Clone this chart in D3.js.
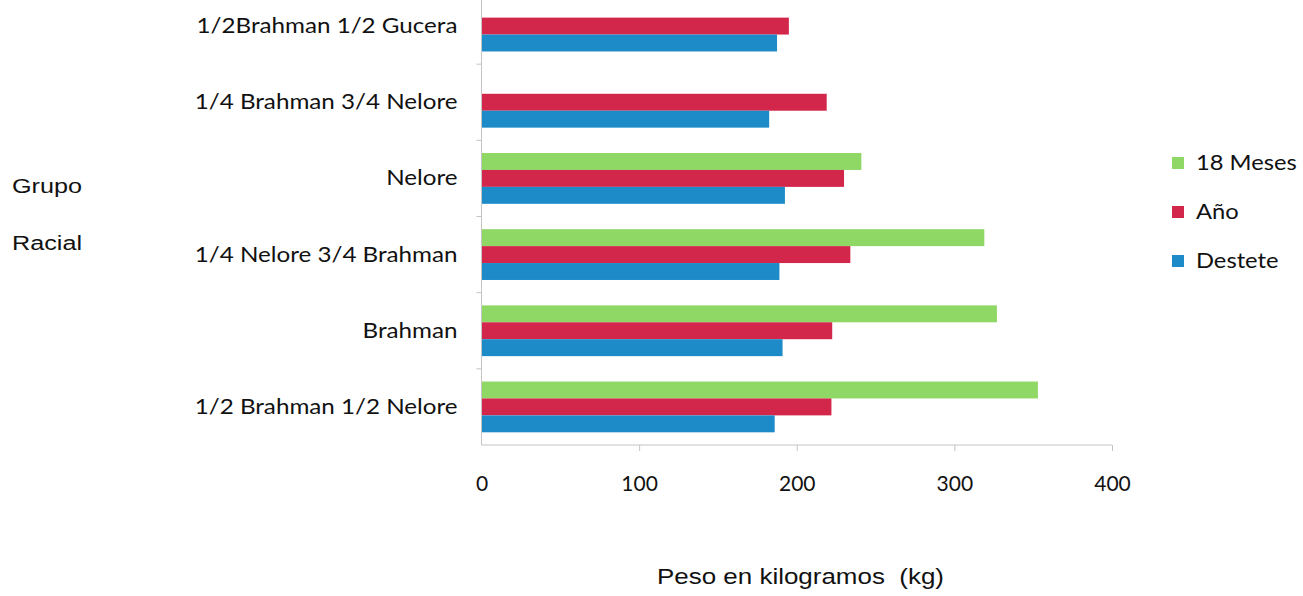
<!DOCTYPE html>
<html>
<head>
<meta charset="utf-8">
<script src="https://cdn.jsdelivr.net/npm/d3@7"></script>
<style>
  body { margin: 0; background: #fff; }
  svg { display: block; }
</style>
</head>
<body>
<div id="chart"></div>
<script>
// categories, top to bottom
var categories = [
    "1/2Brahman 1/2 Gucera",
    "1/4 Brahman 3/4 Nelore",
    "Nelore",
    "1/4 Nelore 3/4 Brahman",
    "Brahman",
    "1/2 Brahman 1/2 Nelore"
];
var seriesNames = ["18 Meses", "Año", "Destete"];
var meses18 = [null, null, 241, 319, 327, 353];
var ano = [195, 219, 230, 234, 222.5, 222];
var destete = [187.5, 182.5, 192.5, 189, 191, 186];
var xTicks = [0, 100, 200, 300, 400];
var colors = ["#8fd866", "#d3264b", "#1c8bc8"];

var svgWidth = 1303;
var svgHeight = 596;

var svg = d3.select("#chart")
    .append("svg")
    .attr("width", svgWidth)
    .attr("height", svgHeight);

var labelFont = "Lato, 'Noto Sans', sans-serif";
var titleFont = "'Liberation Sans', Arial, sans-serif";

// the source picture is a bit wider than tall, so text gets stretched sideways
function stretch(sel, sx) {
    sel.each(function() {
        var t = d3.select(this);
        var x0 = +t.attr("x") || 0;
        var y0 = +t.attr("y") || 0;
        t.attr("x", 0).attr("y", 0)
            .attr("transform", `translate(${x0}, ${y0}) scale(${sx}, 1)`);
    });
}

var x = d3.scaleLinear()
    .domain([0, 400])
    .range([481.5, 1112]);

var y0 = d3.scaleBand()
    .domain(categories)
    .range([-12, 445]);

var y1 = d3.scaleBand()
    .domain(seriesNames)
    .range([0, y0.bandwidth()])
    .paddingInner(0)
    .paddingOuter(0.75);

var seriesData = [meses18, ano, destete];

var rows = categories.map((c, i) => ({
    cat: c,
    vals: seriesNames.map((s, j) => ({ name: s, value: seriesData[j][i], color: colors[j] }))
}));

// bars
var groups = svg.selectAll("g.cat")
    .data(rows)
    .enter()
    .append("g")
    .attr("class", "cat")
    .attr("transform", d => `translate(0, ${y0(d.cat)})`);

groups.selectAll("rect")
    .data(d => d.vals.filter(v => v.value != null))
    .enter()
    .append("rect")
    .attr("x", x(0))
    .attr("y", d => y1(d.name))
    .attr("width", d => x(d.value) - x(0))
    .attr("height", y1.bandwidth())
    .attr("fill", d => d.color);

// x axis
var bottomAxis = d3.axisBottom(x)
    .tickValues(xTicks)
    .tickSize(6)
    .tickPadding(25);

var xAxisG = svg.append("g")
    .attr("transform", "translate(0, 445)")
    .call(bottomAxis);
xAxisG.select(".domain").attr("stroke", "#c4c4c4").attr("d", `M${x(0)},0H${x(400)}`);
xAxisG.selectAll(".tick line").attr("stroke", "#c4c4c4");
xAxisG.selectAll(".tick").filter(d => d === 0).select("line").remove();
xAxisG.selectAll(".tick text")
    .attr("font-family", labelFont)
    .attr("font-size", "21px")
    .attr("fill", "#111");

// y axis
var leftAxis = d3.axisLeft(y0)
    .tickSize(0)
    .tickPadding(24);

var yAxisG = svg.append("g")
    .attr("transform", `translate(${x(0)}, 0)`)
    .call(leftAxis);
yAxisG.select(".domain").attr("stroke", "#c4c4c4").attr("d", "M0,-12V445");
yAxisG.selectAll(".tick text")
    .attr("font-family", labelFont)
    .attr("font-size", "22px")
    .attr("fill", "#111")
    .call(stretch, 1.1);

// small ticks between categories
yAxisG.selectAll("line.sep")
    .data(categories.slice(1))
    .enter()
    .append("line")
    .attr("class", "sep")
    .attr("x1", -5)
    .attr("x2", 0)
    .attr("y1", d => y0(d))
    .attr("y2", d => y0(d))
    .attr("stroke", "#c4c4c4");

// legend
var legend = svg.append("g")
    .attr("transform", "translate(1172, 163)");

var legendItems = legend.selectAll("g")
    .data(seriesNames)
    .enter()
    .append("g")
    .attr("transform", (d, i) => `translate(0, ${i * 49})`);

legendItems.append("rect")
    .attr("x", 0)
    .attr("y", -6)
    .attr("width", 12)
    .attr("height", 12)
    .attr("fill", (d, i) => colors[i]);

legendItems.append("text")
    .attr("x", 24)
    .attr("y", 0)
    .attr("dy", "0.35em")
    .attr("font-family", labelFont)
    .attr("font-size", "21px")
    .attr("fill", "#111")
    .text(d => d)
    .call(stretch, 1.13);

// axis titles
svg.append("text")
    .attr("x", 12)
    .attr("y", 193)
    .attr("font-family", titleFont)
    .attr("font-size", "21px")
    .attr("fill", "#111")
    .text("Grupo")
    .call(stretch, 1.2);

svg.append("text")
    .attr("x", 12)
    .attr("y", 250)
    .attr("font-family", titleFont)
    .attr("font-size", "21px")
    .attr("fill", "#111")
    .text("Racial")
    .call(stretch, 1.2);

svg.append("text")
    .attr("x", 657)
    .attr("y", 584)
    .attr("font-family", titleFont)
    .attr("font-size", "22px")
    .attr("fill", "#111")
    .style("white-space", "pre")
    .text("Peso en kilogramos  (kg)")
    .call(stretch, 1.18);
</script>
</body>
</html>
